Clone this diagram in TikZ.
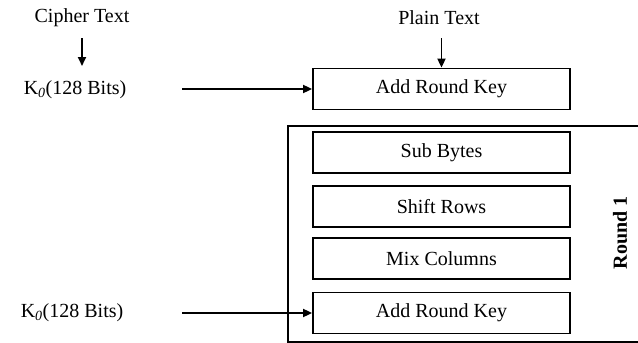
\documentclass[tikz,border=0pt]{standalone}
\usepackage{fontspec}
\setmainfont{Liberation Serif}
\usetikzlibrary{arrows.meta}
\tikzset{
  stage/.style={draw, line width=1.8pt, minimum width=257pt, minimum height=41pt,
    inner sep=0pt, font=\fontsize{20}{24}\selectfont},
  lbl/.style={inner sep=0pt, font=\fontsize{20}{24}\selectfont},
  flow/.style={line width=1.8pt, -{Triangle[length=9pt,width=8pt]}},
}
\begin{document}
\begin{tikzpicture}[x=1pt,y=-1pt]
\useasboundingbox (0,0) rectangle (638,343);

% inputs
\node[lbl] (cipher) at (82,18) {Cipher Text};
\node[lbl] (plain) at (439,18) {Plain Text};
\node[lbl] (key0) at (75,90) {K\textsubscript{\textit{0}}(128 Bits)};
\node[lbl] (key1) at (72,313) {K\textsubscript{\textit{0}}(128 Bits)};

% initial key addition
\node[stage] (ark0) at (441.5,89) {Add Round Key};

% round 1 frame (runs off the right edge)
\draw[line width=1.8pt] (640,126) -- (288,126) -- (288,342) -- (640,342);
\node[stage] (sub) at (441.5,152.5) {Sub Bytes};
\node[stage] (shift) at (441.5,206.5) {Shift Rows};
\node[stage] (mix) at (441.5,258.5) {Mix Columns};
\node[stage] (ark1) at (441.5,313) {Add Round Key};
\node[lbl, rotate=90, font=\fontsize{20}{24}\selectfont\bfseries] (round) at (620,233) {Round 1};

% connectors
\coordinate (c0) at (82,38);
\coordinate (c1) at (82,66);
\draw[flow] (c0) -- (c1);
\coordinate (p0) at (ark0.north |- 0,38);
\draw[flow] (p0) -- (ark0.north);
\coordinate (k0s) at (182,89);
\draw[flow] (k0s) -- (ark0.west);
\coordinate (k1s) at (182,313);
\draw[flow] (k1s) -- (ark1.west);
\end{tikzpicture}
\end{document}
